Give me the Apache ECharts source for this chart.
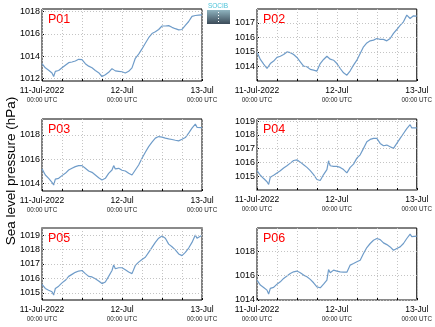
<!DOCTYPE html>
<html>
<head>
<meta charset="utf-8">
<script src="https://cdn.jsdelivr.net/npm/echarts@6/dist/echarts.min.js"></script>
<style>
  html, body { margin: 0; padding: 0; background: #fff; }
  #chart { width: 435px; height: 327px; }
</style>
</head>
<body>
<div id="chart"></div>
<script>
// Hours since 11-Jul-2022 00:00 UTC
const hours = [0,1,2,3,3.5,4,5,6,7,8,9,10,11,12,13,14,15,16,17,18,19,20,21,21.5,
  22,23,24,25,26,27,28,29,30,31,32,33,34,35,36,37,38,39,40,41,42,43,44,45,46,46.5,47,48];

const stations = ['P01', 'P02', 'P03', 'P04', 'P05', 'P06'];

// Sea level pressure (hPa) per station
const p01 = [1013.34,1012.97,1012.76,1012.51,1012.2,1012.66,1012.73,1012.97,1013.2,1013.43,1013.49,1013.58,1013.73,1013.7,
  1013.34,1013.12,1012.97,1012.73,1012.54,1012.2,1012.36,1012.57,1012.9,1013.06,
  1012.7,1012.66,1012.62,1012.51,1012.66,1012.97,1013.82,1014.19,1014.65,1015.16,1015.65,1016.02,1016.17,1016.38,
  1016.69,1016.69,1016.72,1016.57,1016.45,1016.35,1016.38,1016.75,1017.09,1017.55,1017.62,1017.5,1017.66,1017.68];
const p02 = [1015.0,1014.48,1014.16,1013.86,1013.75,1014.2,1014.37,1014.62,1014.7,1014.82,1015.0,1014.95,1014.82,1014.62,
  1014.32,1014.02,1013.98,1013.8,1013.75,1013.68,1014.2,1014.48,1014.7,1014.82,
  1014.5,1014.43,1014.2,1013.86,1013.56,1013.4,1013.7,1014.09,1014.43,1014.89,1015.35,1015.62,1015.76,1015.81,
  1015.92,1015.86,1015.86,1015.76,1015.92,1016.27,1016.54,1016.82,1017.07,1017.53,1017.3,1017.35,1017.48,1017.46];
const p03 = [1015.21,1014.71,1014.44,1014.11,1013.89,1014.38,1014.44,1014.66,1014.85,1015.12,1015.26,1015.4,1015.48,1015.48,
  1015.26,1015.04,1014.93,1014.71,1014.49,1014.3,1014.44,1014.85,1015.12,1015.48,
  1015.21,1015.26,1015.1,1015.04,1014.85,1014.71,1015.12,1015.53,1016.08,1016.58,1017.04,1017.4,1017.73,1017.86,
  1017.81,1017.73,1017.67,1017.62,1017.56,1017.51,1017.64,1017.78,1018.14,1018.55,1018.88,1018.62,1018.68,1018.6];
const p04 = [1015.4,1015.07,1014.83,1014.6,1014.4,1014.93,1015.07,1015.24,1015.4,1015.6,1015.76,1015.95,1016.14,1016.19,
  1016.02,1015.83,1015.64,1015.4,1015.12,1014.76,1014.69,1015.12,1015.48,1016.12,
  1015.76,1015.71,1015.71,1015.64,1015.48,1015.24,1015.64,1015.88,1016.31,1016.55,1017.02,1017.5,1017.67,1017.74,
  1017.74,1017.38,1017.21,1017.26,1017.14,1017.02,1017.38,1017.74,1018.1,1018.45,1018.74,1018.5,1018.64,1018.5];
const p05 = [1015.59,1015.3,1015.18,1015.07,1014.84,1015.3,1015.46,1015.69,1015.87,1016.14,1016.28,1016.42,1016.51,1016.55,
  1016.33,1016.14,1016.1,1015.98,1015.82,1015.64,1015.75,1016.14,1016.55,1016.94,
  1016.67,1016.74,1016.74,1016.6,1016.44,1016.33,1016.9,1017.13,1017.31,1017.47,1017.81,1018.15,1018.5,1018.79,
  1018.95,1018.79,1018.38,1018.2,1017.98,1017.7,1017.58,1017.81,1018.11,1018.5,1019.02,1018.79,1018.88,1019.0];
const p06 = [1015.63,1015.22,1015.03,1014.81,1014.49,1014.95,1015.03,1015.3,1015.49,1015.77,1015.96,1016.17,1016.31,1016.37,
  1016.23,1016.04,1015.9,1015.69,1015.41,1015.08,1015.0,1015.3,1015.63,1016.5,
  1016.23,1016.45,1016.37,1016.31,1016.28,1016.28,1016.86,1016.99,1017.13,1017.26,1017.81,1018.3,1018.63,1018.9,
  1019.04,1018.95,1018.68,1018.54,1018.35,1018.08,1018.22,1018.35,1018.63,1019.04,1019.39,1019.2,1019.36,1019.23];

// Axis extents and tick values for each panel
const yMin = [1011.8, 1013.0, 1013.4, 1014.0, 1014.5, 1014.0];
const yMax = [1018.2, 1017.95, 1019.3, 1019.15, 1019.5, 1019.9];
const yTicks = [
  [1012, 1014, 1016, 1018],
  [1014, 1015, 1016, 1017],
  [1014, 1016, 1018],
  [1015, 1016, 1017, 1018, 1019],
  [1015, 1016, 1017, 1018, 1019],
  [1014, 1016, 1018]
];
const xLabelHours = [0, 24, 48];
const xLabelDates = ['11-Jul-2022', '12-Jul', '13-Jul'];
const xLabelTime = '00:00 UTC';

const seriesValues = [p01, p02, p03, p04, p05, p06];

const FONT = 'Liberation Sans, Arial, sans-serif';
const LINE_COLOR = '#6f9cc9';
const GRID_DOT = '#c4c4c4';

const gridBoxes = [
  { left: 42,  top: 9,   width: 160, height: 72 },
  { left: 257, top: 9,   width: 160, height: 72 },
  { left: 42,  top: 119, width: 160, height: 72 },
  { left: 257, top: 119, width: 160, height: 71 },
  { left: 42,  top: 228, width: 160, height: 72 },
  { left: 257, top: 228, width: 160, height: 72 }
];

const grids = [], xAxes = [], yAxes = [], series = [], titles = [];

stations.forEach((name, i) => {
  const b = gridBoxes[i];
  grids.push({
    left: b.left, top: b.top, width: b.width, height: b.height,
    show: true, borderColor: '#000', borderWidth: 1, backgroundColor: '#fff'
  });
  // gray bottom edge on P04 and P06
  const grayBottom = (i === 3 || i === 5);
  xAxes.push({
    type: 'value', gridIndex: i, min: 0, max: 48, interval: 6,
    axisLine: { show: grayBottom, lineStyle: { color: '#8a8a8a', width: 2 } },
    axisTick: { show: true, inside: true, length: 2, lineStyle: { color: '#000' } },
    splitLine: { show: true, lineStyle: { color: GRID_DOT, type: [1, 2], width: 1 } },
    axisLabel: {
      customValues: xLabelHours,
      margin: 4,
      fontFamily: FONT,
      formatter: (v) => {
        const k = xLabelHours.indexOf(v);
        if (k < 0) return '';
        return '{a|' + xLabelDates[k] + '}\n{b|' + xLabelTime + '}';
      },
      rich: {
        a: { fontSize: 8.5, color: '#000', fontFamily: FONT, lineHeight: 11 },
        b: { fontSize: 6.3, color: '#222', fontFamily: FONT, lineHeight: 9 }
      }
    }
  });
  yAxes.push({
    type: 'value', gridIndex: i, min: yMin[i], max: yMax[i],
    axisLine: { show: false },
    axisTick: { show: true, inside: true, length: 2, customValues: yTicks[i], lineStyle: { color: '#000' } },
    splitLine: { show: false },
    axisLabel: {
      customValues: yTicks[i], margin: 2,
      fontSize: 9, color: '#000', fontFamily: FONT,
      formatter: (v) => String(v)
    }
  });
  series.push({
    type: 'line', xAxisIndex: i, yAxisIndex: i,
    data: hours.map((h, k) => [h, seriesValues[i][k]]),
    showSymbol: false, smooth: false, clip: true,
    lineStyle: { color: LINE_COLOR, width: 1.2 },
    markLine: {
      silent: true, symbol: 'none', animation: false,
      label: { show: false },
      lineStyle: { color: GRID_DOT, type: [1, 2], width: 1 },
      data: yTicks[i].map(v => ({ yAxis: v }))
    },
    z: 3
  });
  titles.push({
    text: name, left: b.left + 1, top: b.top - 1,
    textStyle: { color: '#ff0000', fontSize: 12.5, fontWeight: 'normal', fontFamily: FONT }
  });
});

// gray top edge on P05
xAxes.push({
  type: 'value', gridIndex: 4, position: 'top', min: 0, max: 48,
  axisLine: { show: true, lineStyle: { color: '#8a8a8a', width: 2 } },
  axisTick: { show: false }, axisLabel: { show: false }, splitLine: { show: false }
});

const option = {
  animation: false,
  backgroundColor: '#fff',
  title: titles,
  grid: grids,
  xAxis: xAxes,
  yAxis: yAxes,
  series: series,
  graphic: [
    {
      type: 'text', x: 11, y: 171, rotation: Math.PI / 2,
      style: {
        text: 'Sea level pressure (hPa)', fontSize: 13.5, fontFamily: FONT,
        fill: '#000', align: 'center', verticalAlign: 'middle'
      }
    },
    {
      type: 'text', x: 218, y: 6,
      style: {
        text: 'SOCIB', fontSize: 6.5, fontFamily: FONT, fill: '#4cc3d9',
        align: 'center', verticalAlign: 'middle'
      }
    },
    {
      type: 'rect', shape: { x: 207, y: 10, width: 23, height: 14 },
      style: {
        fill: new echarts.graphic.LinearGradient(0, 0, 0, 1, [
          { offset: 0, color: '#8fb3bf' },
          { offset: 1, color: '#3b4a58' }
        ])
      }
    },
    {
      type: 'line', shape: { x1: 218.5, y1: 12, x2: 218.5, y2: 22 },
      style: { stroke: '#ffffff', lineWidth: 1, lineDash: [1, 2] }
    }
  ]
};

const chart = echarts.init(document.getElementById('chart'), null, { renderer: 'canvas' });
chart.setOption(option);
</script>
</body>
</html>
